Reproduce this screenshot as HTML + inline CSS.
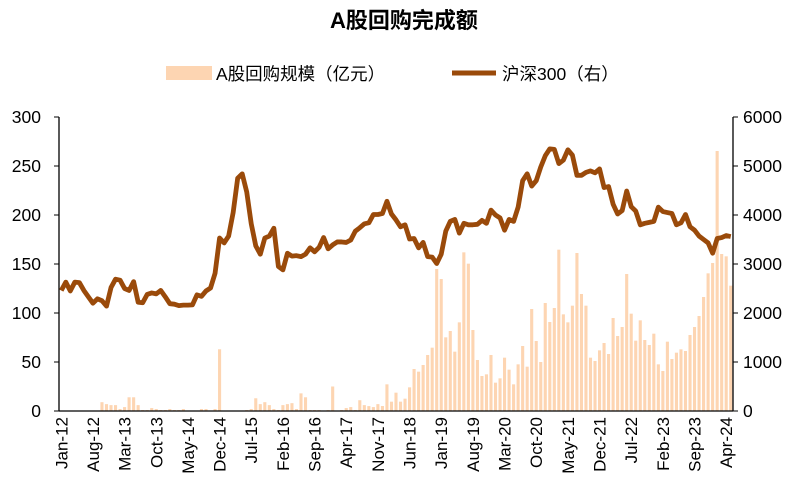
<!DOCTYPE html>
<html><head><meta charset="utf-8"><style>
body{margin:0;background:#fff;width:809px;height:499px;overflow:hidden}
svg text{font-family:"Liberation Sans","Noto Sans CJK SC",sans-serif;fill:#000}
</style></head><body>
<svg id="s" width="809" height="499" xmlns="http://www.w3.org/2000/svg"></svg>
<script>
const L=[2460,2630,2450,2630,2620,2460,2330,2200,2290,2250,2140,2520,
2690,2670,2500,2460,2640,2220,2210,2380,2410,2390,2460,2330,
2190,2180,2150,2160,2160,2165,2370,2340,2450,2510,2810,3530,
3430,3570,4050,4750,4840,4470,3820,3370,3200,3530,3570,3730,
2950,2880,3220,3160,3170,3150,3200,3330,3250,3340,3540,3310,
3390,3450,3450,3440,3490,3670,3740,3820,3840,4010,4010,4030,
4280,4020,3900,3760,3800,3510,3520,3330,3440,3150,3140,3010,
3200,3670,3870,3910,3630,3830,3800,3800,3810,3890,3830,4100,
4000,3940,3690,3910,3870,4160,4700,4840,4590,4700,4980,5210,
5350,5340,5050,5120,5330,5220,4810,4810,4870,4900,4860,4940,
4560,4580,4220,4020,4090,4490,4170,4080,3800,3830,3850,3870,
4160,4070,4050,4030,3800,3840,4010,3760,3690,3570,3500,3430,
3220,3520,3540,3580,3560];
let B=[0,0,0,0,0,0,0,0,0,9,7,6,
6,2,4,14,14,6,1,1,3,2,1,1,
2,1,1,2,0,0,0,2,2,0,2,63,
0,0,0,0,0,1,2,13,7,9,6,2,
1,6,7,8,2,18,14,1,1,1,0,1,
25,0,1,3,4,1,11,6,5,4,7];
const T=[828,763,815,788,815,806,772,717,725,705,675,653,417,447,622,603,665,577,367,401,600,690,738,733,675,758,745,683,719,763,703,648,710,537,633,696,519,576,534,359,553,577,527,369,492,527,683,693,661,639,672,564,618,591,432,551,632,571,630,645,611,703,723,635,687,668,658,663,615,591,558,501,430,399,63,372,379,467];
T.forEach(t=>B.push((843-t)/2.94));
const x0=59,x1=733,y0=411,y1=117,n=149,dx=(x1-x0)/n;
let h='';
h+='<text x="404" y="28" text-anchor="middle" font-size="22" font-weight="bold">A股回购完成额</text>';
h+='<rect x="166" y="66" width="46" height="14" fill="#fdd5b2"/><text x="216" y="80" font-size="17.5">A股回购规模（亿元）</text>';
h+='<line x1="452" y1="73" x2="496" y2="73" stroke="#9a4a0a" stroke-width="5"/><text x="502" y="80" font-size="17.5">沪深300（右）</text>';
B.forEach((v,i)=>{const hh=v*(y0-y1)/300;if(hh>0.3)h+=`<rect x="${(x0+dx*i+0.7).toFixed(2)}" y="${(y0-hh).toFixed(2)}" width="3.1" height="${hh.toFixed(2)}" fill="#fdd5b2"/>`;});
let p=L.map((v,i)=>`${(x0+dx*(i+0.5)).toFixed(2)},${(y0-v/6000*(y0-y1)).toFixed(2)}`).join(' ');
h+=`<polyline points="${p}" fill="none" stroke="#9a4a0a" stroke-width="4.8" stroke-linejoin="round"/>`;
h+=`<line x1="${x0}" y1="${y1}" x2="${x0}" y2="${y0}" stroke="#000" stroke-width="1.3"/>`;
h+=`<line x1="${x1}" y1="${y1}" x2="${x1}" y2="${y0}" stroke="#000" stroke-width="1.3"/>`;
h+=`<line x1="${x0}" y1="${y0}" x2="${x1}" y2="${y0}" stroke="#000" stroke-width="1.3"/>`;
for(let k=0;k<=6;k++){const y=y0-k*(y0-y1)/6;
h+=`<line x1="${x0-5}" y1="${y}" x2="${x0}" y2="${y}" stroke="#000"/>`;
h+=`<line x1="${x1}" y1="${y}" x2="${x1+5}" y2="${y}" stroke="#000"/>`;
h+=`<text x="${x0-18}" y="${y+6}" text-anchor="end" font-size="17.5">${k*50}</text>`;
h+=`<text x="${x1+10}" y="${y+6}" font-size="17.5">${k*1000}</text>`;}
const lab=['Jan-12','Aug-12','Mar-13','Oct-13','May-14','Dec-14','Jul-15','Feb-16','Sep-16','Apr-17','Nov-17','Jun-18','Jan-19','Aug-19','Mar-20','Oct-20','May-21','Dec-21','Jul-22','Feb-23','Sep-23','Apr-24'];
lab.forEach((l,j)=>{const x=x0+dx*(j*7+0.5);
h+=`<text transform="translate(${x+6},${y0+6}) rotate(-90)" text-anchor="end" font-size="17">${l}</text>`;});
document.getElementById('s').innerHTML=h;
</script>
</body></html>
